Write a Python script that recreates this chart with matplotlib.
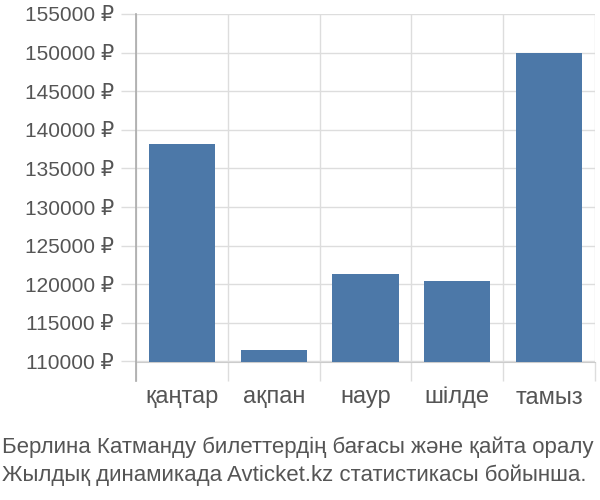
import matplotlib
matplotlib.use("Agg")
import matplotlib.pyplot as plt
import numpy as np

# data
months = ['қаңтар', 'ақпан', 'наур', 'шілде', 'тамыз']
prices = [138200, 111500, 121300, 120400, 150000]
yticks = [110000, 115000, 120000, 125000, 130000, 135000, 140000, 145000, 150000, 155000]
caption = ['Берлина Катманду билеттердің бағасы және қайта оралу',
           'Жылдық динамикада Avticket.kz статистикасы бойынша.']

plt.rcParams['font.family'] = ['Liberation Sans', 'DejaVu Sans']
text_col = '#555555'
grid_col = '#dddddd'

fig = plt.figure(figsize=(6, 5), dpi=100)
ax = fig.add_axes([136 / 600, 1 - 361.5 / 500, (595 - 136) / 600, (361.5 - 14) / 500])

x = np.arange(len(months))
ax.bar(x, [p - yticks[0] for p in prices], bottom=yticks[0], width=0.72,
       color='#4C78A8', zorder=3)

ax.set_xlim(-0.5, len(months) - 0.5)
ax.set_ylim(yticks[0], yticks[-1])

ax.set_yticks(yticks)
ax.set_yticklabels(['%d ₽' % v for v in yticks])
ax.set_xticks(x)
ax.set_xticklabels(months)
ax.set_xticks(np.arange(len(months) + 1) - 0.5, minor=True)

ax.tick_params(axis='y', which='major', length=11, width=1, color=grid_col,
               labelsize=15, labelcolor=text_col, pad=5)
ax.tick_params(axis='x', which='major', length=0, labelsize=17,
               labelcolor=text_col, pad=18)
ax.tick_params(axis='x', which='minor', length=14, width=1, color=grid_col)

ax.grid(axis='y', which='major', color=grid_col, lw=1, zorder=0)
ax.grid(axis='x', which='minor', color=grid_col, lw=1, zorder=0)

for s in ['top', 'right']:
    ax.spines[s].set_visible(False)
ax.spines['bottom'].set_color('#cccccc')
ax.spines['left'].set_visible(False)
# left axis line runs a bit below the baseline
ax.plot([0, 0], [1, -19 / 347.5], transform=ax.transAxes, color='#aaaaaa',
        lw=1.2, clip_on=False, zorder=4)

fig.text(2 / 600, 1 - 447 / 500, caption[0], fontsize=16, color=text_col, va='center')
fig.text(2 / 600, 1 - 475 / 500, caption[1], fontsize=16, color=text_col, va='center')

fig.savefig('out.png', dpi=100)
